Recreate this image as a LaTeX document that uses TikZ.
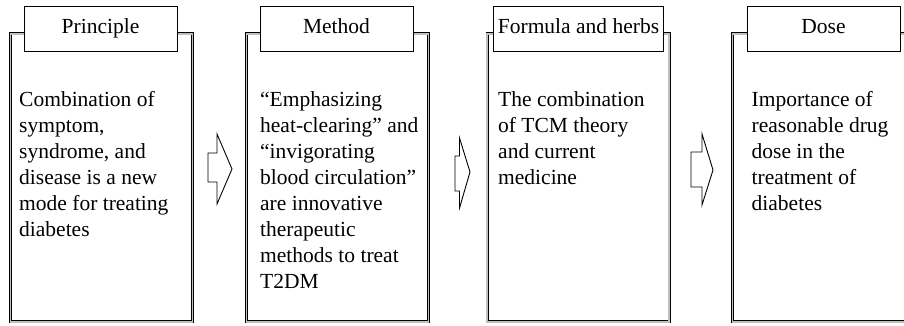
\documentclass[tikz,border=0pt]{standalone}
\usepackage{fontspec}
\setmainfont{Liberation Serif}
\begin{document}
\begin{tikzpicture}[x=1pt,y=-1pt,
  bigbox/.style={draw=black, line width=0.9pt, double=gray!50, double distance=1.5pt,
    minimum width=182pt, minimum height=288pt, inner sep=0pt, outer sep=0pt},
  labelbox/.style={draw=black, line width=0.9pt, fill=white, minimum width=153pt,
    minimum height=45pt, inner sep=4pt, text height=14pt, text depth=5pt,
    font=\fontsize{21.5}{26}\selectfont},
  bodytext/.style={anchor=base west, inner sep=0pt, font=\fontsize{21.5}{26}\selectfont},
  blockarrow/.style={draw=black, line width=0.9pt, fill=white, line join=miter}]
\path[use as bounding box, clip] (0,0) rectangle (904,325);
% big boxes
\node[bigbox] (box1) at (101.5,177.75) {};
\node[bigbox] (box2) at (337.5,177.75) {};
\node[bigbox] (box3) at (578.2,177.75) {};
\node[bigbox] (box4) at (823.5,177.75) {};
% labels
\node[labelbox] (lab1) at (100.5,28.5) {Principle};
\node[labelbox] (lab2) at (336.5,28.5) {Method};
\node[labelbox] (lab3) at (578.5,28.5) {Formula and herbs};
\node[labelbox] (lab4) at (823.5,28.5) {Dose};
% body texts
\newcommand{\boxbody}[1]{\parbox[t]{175pt}{\fontsize{21.5}{26}\selectfont\raggedright #1}}
\node[bodytext] (txt1) at (19,106) {\boxbody{Combination of\\symptom,\\syndrome, and\\disease is a new\\mode for treating\\diabetes}};
\node[bodytext] (txt2) at (260,106) {\boxbody{“Emphasizing\\heat-clearing” and\\“invigorating\\blood circulation”\\are innovative\\therapeutic\\methods to treat\\T2DM}};
\node[bodytext] (txt3) at (498,106) {\boxbody{The combination\\of TCM theory\\and current\\medicine}};
\node[bodytext] (txt4) at (751.5,106) {\boxbody{Importance of\\reasonable drug\\dose in the\\treatment of\\diabetes}};
% block arrows
\draw[blockarrow] (208,153) -- (217,153) -- (217,134) -- (232,169) -- (217,204) -- (217,182) -- (208,182) -- cycle;
\draw[blockarrow] (455,156) -- (459.5,156) -- (459.5,138) -- (470,172) -- (459.5,208) -- (459.5,191) -- (455,191) -- cycle;
\draw[blockarrow] (691,152) -- (702,152) -- (702,134) -- (713,170) -- (702,205) -- (702,187) -- (691,187) -- cycle;
\end{tikzpicture}
\end{document}
